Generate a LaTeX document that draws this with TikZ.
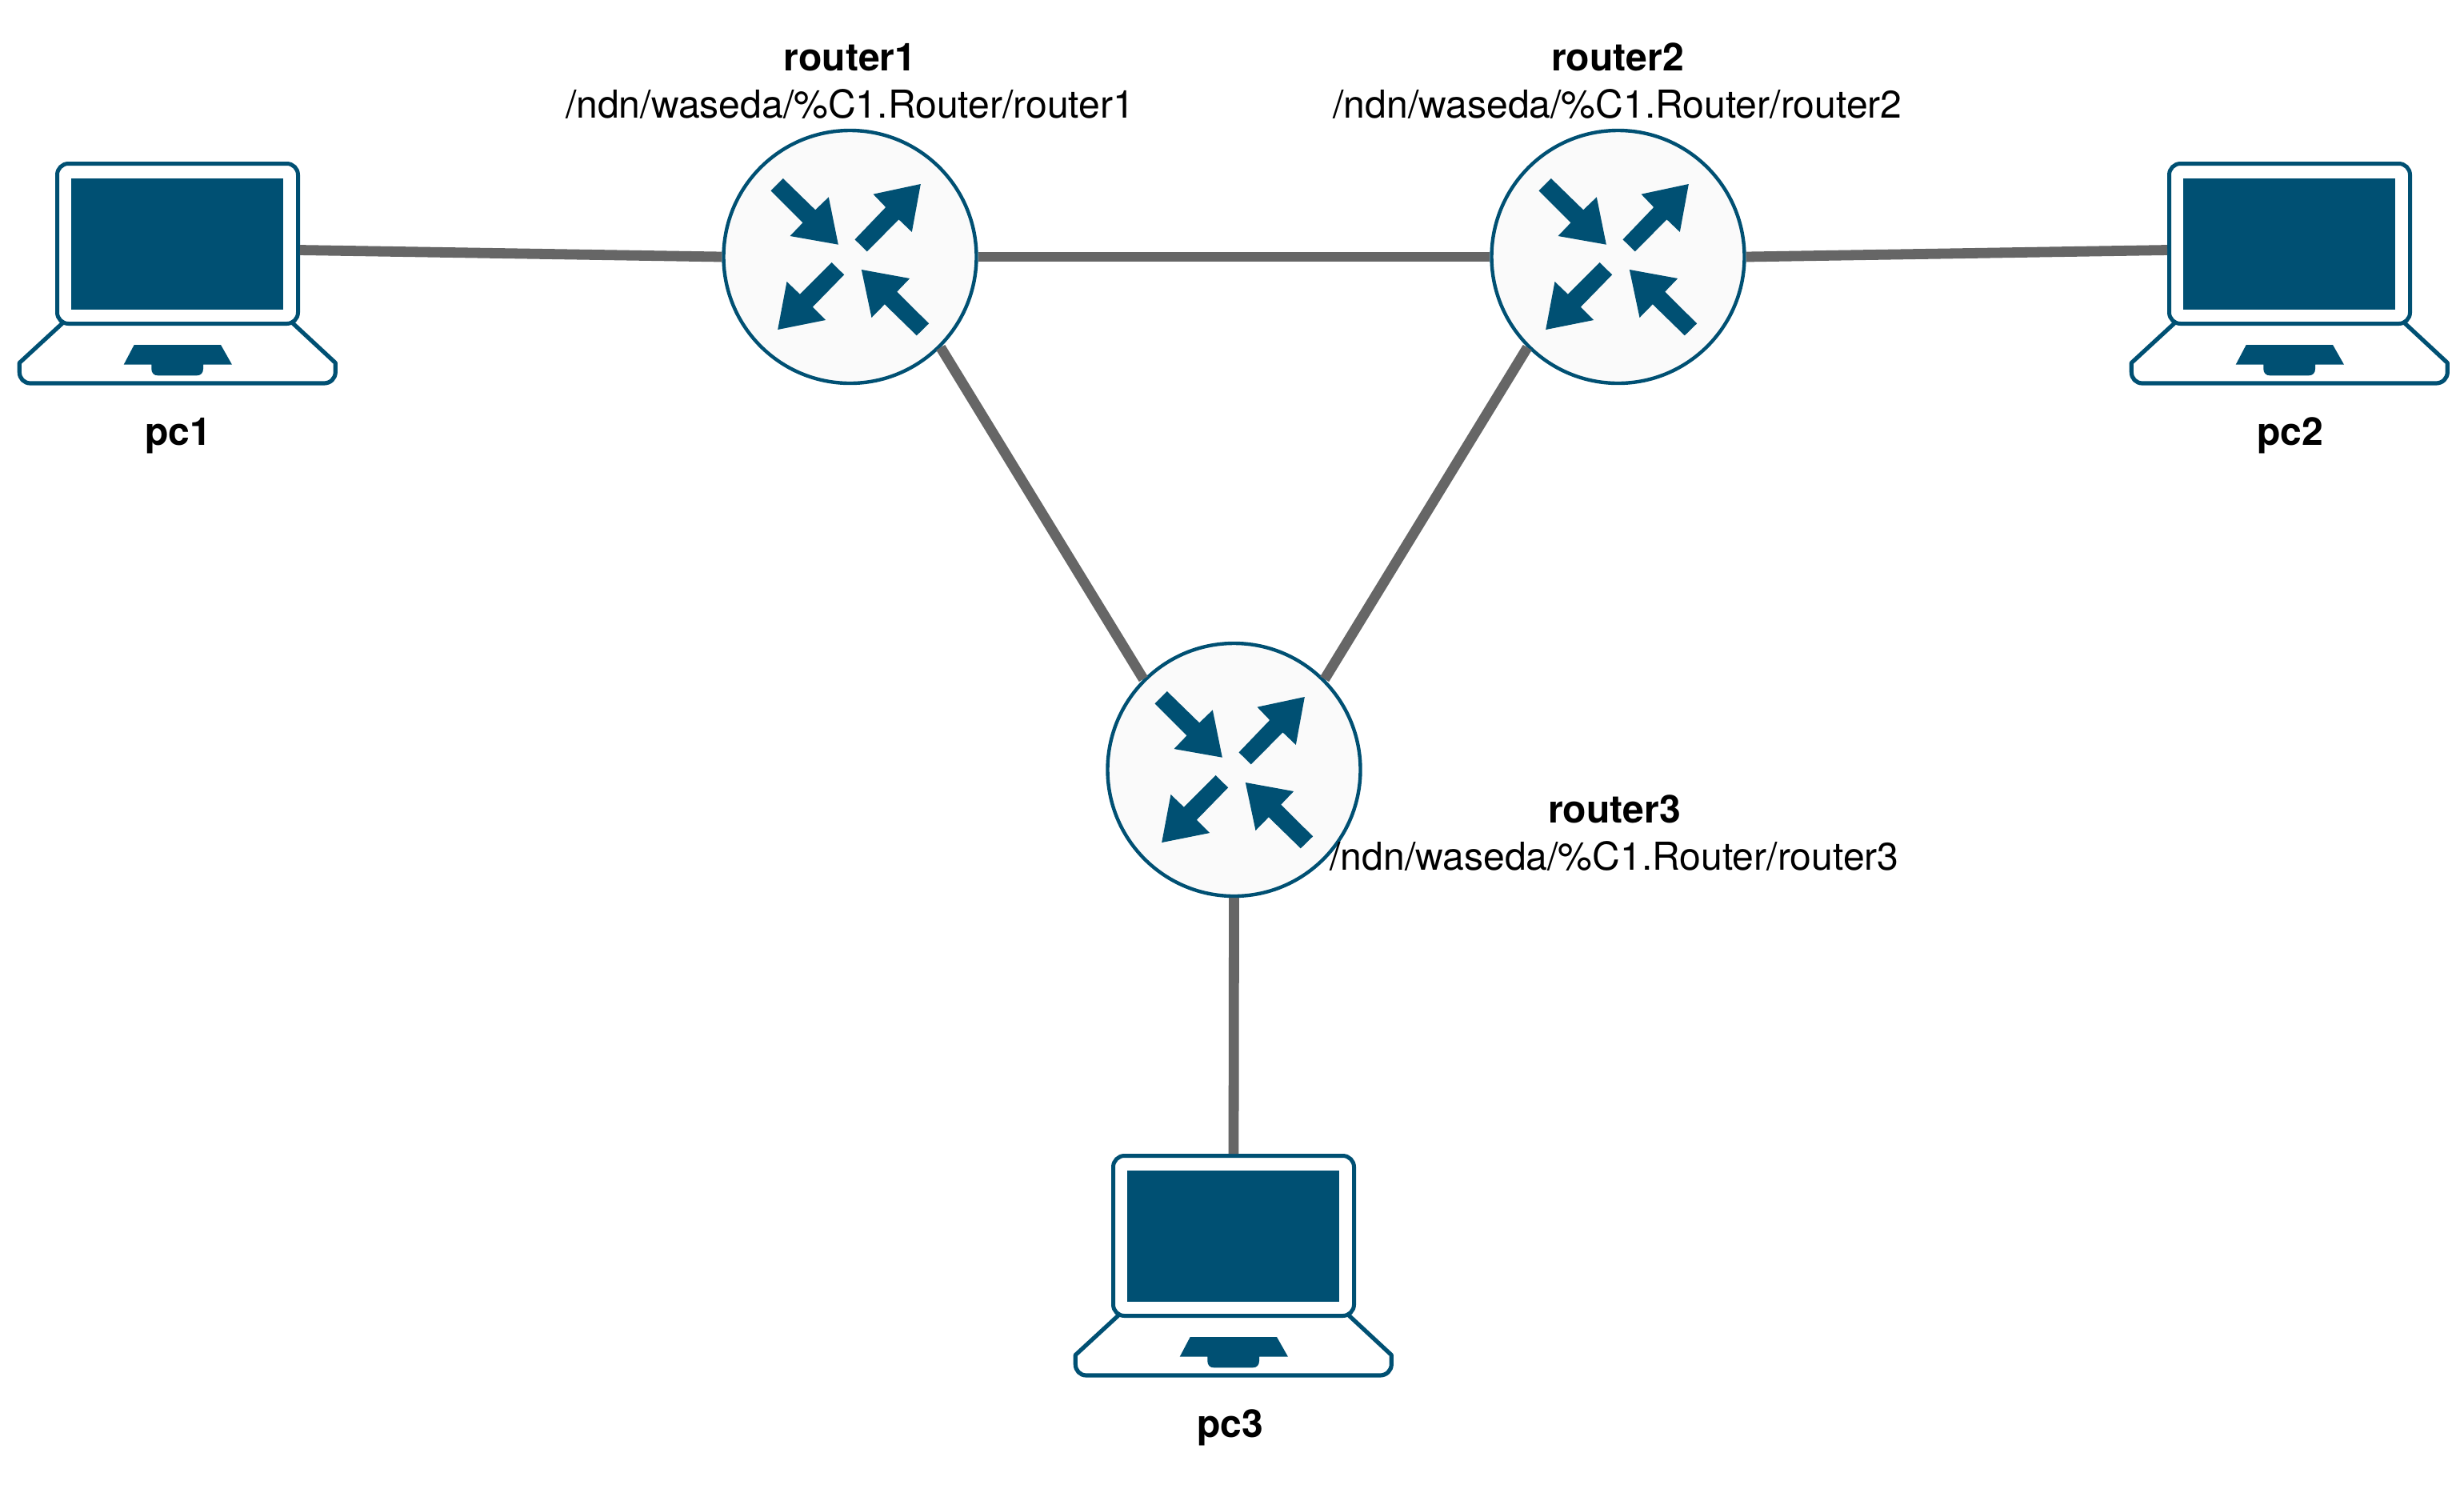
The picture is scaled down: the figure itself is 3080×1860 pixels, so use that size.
\documentclass[tikz,border=0pt]{standalone}
\usepackage{fontspec}
\setmainfont{TeX Gyre Heros}
\definecolor{ciscoblue}{HTML}{005073}
\definecolor{linkgray}{HTML}{666666}
\definecolor{routerfill}{HTML}{FAFAFA}
\tikzset{
  routernode/.style={circle,draw=ciscoblue,fill=routerfill,line width=2.2pt,minimum size=158pt,inner sep=0pt},
  lidnode/.style={rectangle,draw=ciscoblue,fill=white,line width=2.5pt,rounded corners=7pt,minimum width=150.5pt,minimum height=100pt,inner sep=0pt},
  screenbox/.style={fill=ciscoblue,draw=none},
  basebox/.style={draw=ciscoblue,fill=white,line width=2.6pt,line join=round},
  linkedge/.style={draw=linkgray,line width=6.4pt},
  textlabel/.style={font=\fontsize{24.05}{29.5}\selectfont,align=center,anchor=base,inner sep=0pt,text=black},
  pclabel/.style={font=\bfseries\fontsize{24.05}{29.5}\selectfont,anchor=base,inner sep=0pt,text=black}
}
\newcommand{\routerglyph}[1]{%
  \begin{scope}[shift={(#1.center)}]
    \fill[ciscoblue] (-83.67,-98)--(-43.33,-58.67)--(-26.67,-74.67)--(-14.67,-15.33)--(-75,-26)--(-59,-42.67)--(-99,-82.67)--cycle;
    \fill[ciscoblue] (6,-21.67)--(44.67,-62)--(29,-78.33)--(88.33,-91)--(77.33,-31)--(61,-46.67)--(21.33,-6.67)--cycle;
    \fill[ciscoblue] (-23,7)--(-62.67,46.67)--(-79,31)--(-90.33,91)--(-30.33,79)--(-46.67,62.67)--(-7.33,22.33)--cycle;
    \fill[ciscoblue] (14.33,16)--(74.67,27)--(58.67,43.67)--(98.67,83.33)--(83.33,98.33)--(43.33,59.33)--(27,76)--cycle;
  \end{scope}}
\newcommand{\laptopat}[3]{%
  \begin{scope}[shift={(#2,#3)}]
    \draw[basebox] (78,404)--(24.3,453.5)--(24.3,465)
      .. controls (24.3,473) and (30,479) .. (38,479)--(405,479)
      .. controls (413,479) and (419.3,473) .. (419.3,465)--(419.3,453.5)--(366,404);
    \node[lidnode] (#1) at (222,304.5) {};
    \fill[screenbox] (89,223.3) rectangle (354,386.7);
    \fill[ciscoblue] (167.7,431)--(276,431)--(290,455.7)--(254,455.7)--(254,461)
      .. controls (254,466) and (251,469.3) .. (246,469.3)--(197.3,469.3)
      .. controls (192.3,469.3) and (189.3,466) .. (189.3,461)--(189.3,455.7)--(154.7,455.7)--cycle;
  \end{scope}}
\begin{document}
\begin{tikzpicture}[x=0.5pt,y=-0.5pt]
  \useasboundingbox (0,0) rectangle (3080,1860);
  \fill[white] (0,0) rectangle (3080,1860);

  \laptopat{pc1}{0}{0}
  \laptopat{pc2}{2640}{0}
  \laptopat{pc3}{1320}{1240}

  \node[routernode] (router1) at (1062.5,321) {};
  \node[routernode] (router2) at (2022.5,321) {};
  \node[routernode] (router3) at (1542.5,962) {};
  \routerglyph{router1}
  \routerglyph{router2}
  \routerglyph{router3}

  \draw[linkedge] (pc1.-3.55) -- (router1.west);
  \draw[linkedge] (router1.east) -- (router2.west);
  \draw[linkedge] (router2.east) -- (pc2.183.55);
  \draw[linkedge] (router1.south east) -- (router3.north west);
  \draw[linkedge] (router2.south west) -- (router3.north east);
  \draw[linkedge] (router3.south) -- (pc3.north);

  \node[textlabel] (label1) at (1062.5,147) {\textbf{router1}\\/ndn/waseda/\%C1.Router/router1};
  \node[textlabel] (label2) at (2022,147) {\textbf{router2}\\/ndn/waseda/\%C1.Router/router2};
  \node[textlabel] (label3) at (2018,1087) {\textbf{router3}\\/ndn/waseda/\%C1.Router/router3};
  \node[pclabel] (labelpc1) at (223,556) {pc1};
  \node[pclabel] (labelpc2) at (2862.5,556) {pc2};
  \node[pclabel] (labelpc3) at (1538,1796) {pc3};
\end{tikzpicture}
\end{document}
